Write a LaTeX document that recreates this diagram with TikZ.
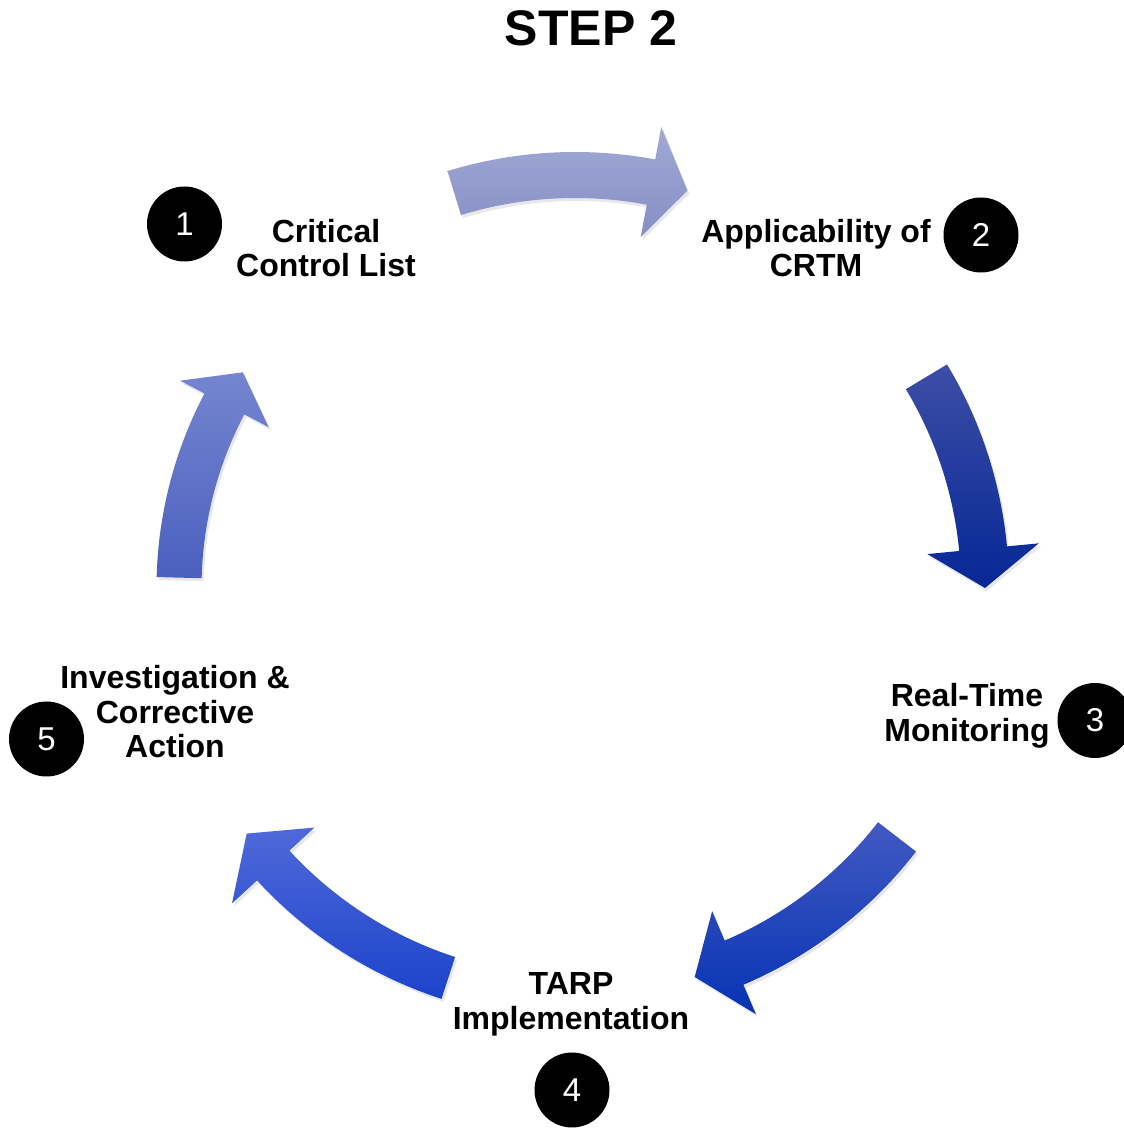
\documentclass[tikz,border=0pt]{standalone}
\usepackage{fontspec}
\setmainfont{Liberation Sans}
\usetikzlibrary{shadows}
\definecolor{aOneTop}{HTML}{A1A9D5}
\definecolor{aOneBot}{HTML}{868FC4}
\definecolor{aTwoTop}{HTML}{3C4EA6}
\definecolor{aTwoBot}{HTML}{062795}
\definecolor{aThreeTop}{HTML}{4259C2}
\definecolor{aThreeBot}{HTML}{0633B3}
\definecolor{aFourTop}{HTML}{5069D9}
\definecolor{aFourBot}{HTML}{1B43CB}
\definecolor{aFiveTop}{HTML}{7585D0}
\definecolor{aFiveBot}{HTML}{4A60BF}
\tikzset{
  cyclearrowstyle/.style={draw=none, drop shadow={opacity=0.18, shadow xshift=2pt, shadow yshift=-3pt}},
  numdot/.style={circle, fill=black, minimum size=75pt, inner sep=0pt, text=white, font=\fontsize{33}{36}\selectfont},
  steplabel/.style={align=center, inner sep=0pt, font=\fontsize{32}{34.5}\selectfont\bfseries},
  titletext/.style={inner sep=0pt, font=\fontsize{50}{55}\selectfont\bfseries}
}
% #1 start angle, #2 head base angle, #3 tip angle, #4 mid radius, #5 half width, #6 head half width, #7 top colour, #8 bottom colour
\newcommand{\cyclearrow}[8]{%
  \pgfmathsetmacro\caRo{#4+#5}%
  \pgfmathsetmacro\caRi{#4-#5}%
  \pgfmathsetmacro\caHo{#4+#6}%
  \pgfmathsetmacro\caHi{#4-#6}%
  \path[cyclearrowstyle, top color=#7, bottom color=#8]
    (#1:\caRo) arc[start angle=#1, end angle=#2, radius=\caRo]
    -- (#2:\caHo) -- (#3:#4) -- (#2:\caHi) -- (#2:\caRi)
    arc[start angle=#2, end angle=#1, radius=\caRi] -- cycle;%
}
\begin{document}
\begin{tikzpicture}[x=1pt, y=1pt]
\useasboundingbox (0,0) rectangle (1124,1128);
\fill[white] (0,0) rectangle (1124,1128);

\begin{scope}[shift={(575,540)}]
  \cyclearrow{107}{79.4}{74.2}{413}{23}{56}{aOneTop}{aOneBot}
  \cyclearrow{31}{5.5}{0}{410}{24}{56}{aTwoTop}{aTwoBot}
  \cyclearrow{-37.7}{-67}{-72.9}{407}{24}{56}{aThreeTop}{aThreeBot}
  \cyclearrow{-108}{-137.4}{-143.2}{410}{22}{56}{aFourTop}{aFourBot}
  \cyclearrow{178.5}{152.3}{147}{396}{22.5}{50}{aFiveTop}{aFiveBot}
\end{scope}

\node[titletext] (title) at (591,1099.5) {STEP 2};

\node[numdot] (n1) at (184.5,904) {1};
\node[numdot] (n2) at (981,893) {2};
\node[numdot] (n3) at (1095,407.5) {3};
\node[numdot] (n4) at (572,38) {4};
\node[numdot] (n5) at (46.5,389) {5};

\node[steplabel] (t1) at (326,880) {Critical\\Control List};
\node[steplabel] (t2) at (816,880) {Applicability of\\CRTM};
\node[steplabel] (t3) at (967,412) {Real-Time\\Monitoring};
\node[steplabel] (t4) at (571,123.5) {TARP\\Implementation};
\node[steplabel] (t5) at (175,416) {Investigation \&\\Corrective\\Action};
\end{tikzpicture}
\end{document}
